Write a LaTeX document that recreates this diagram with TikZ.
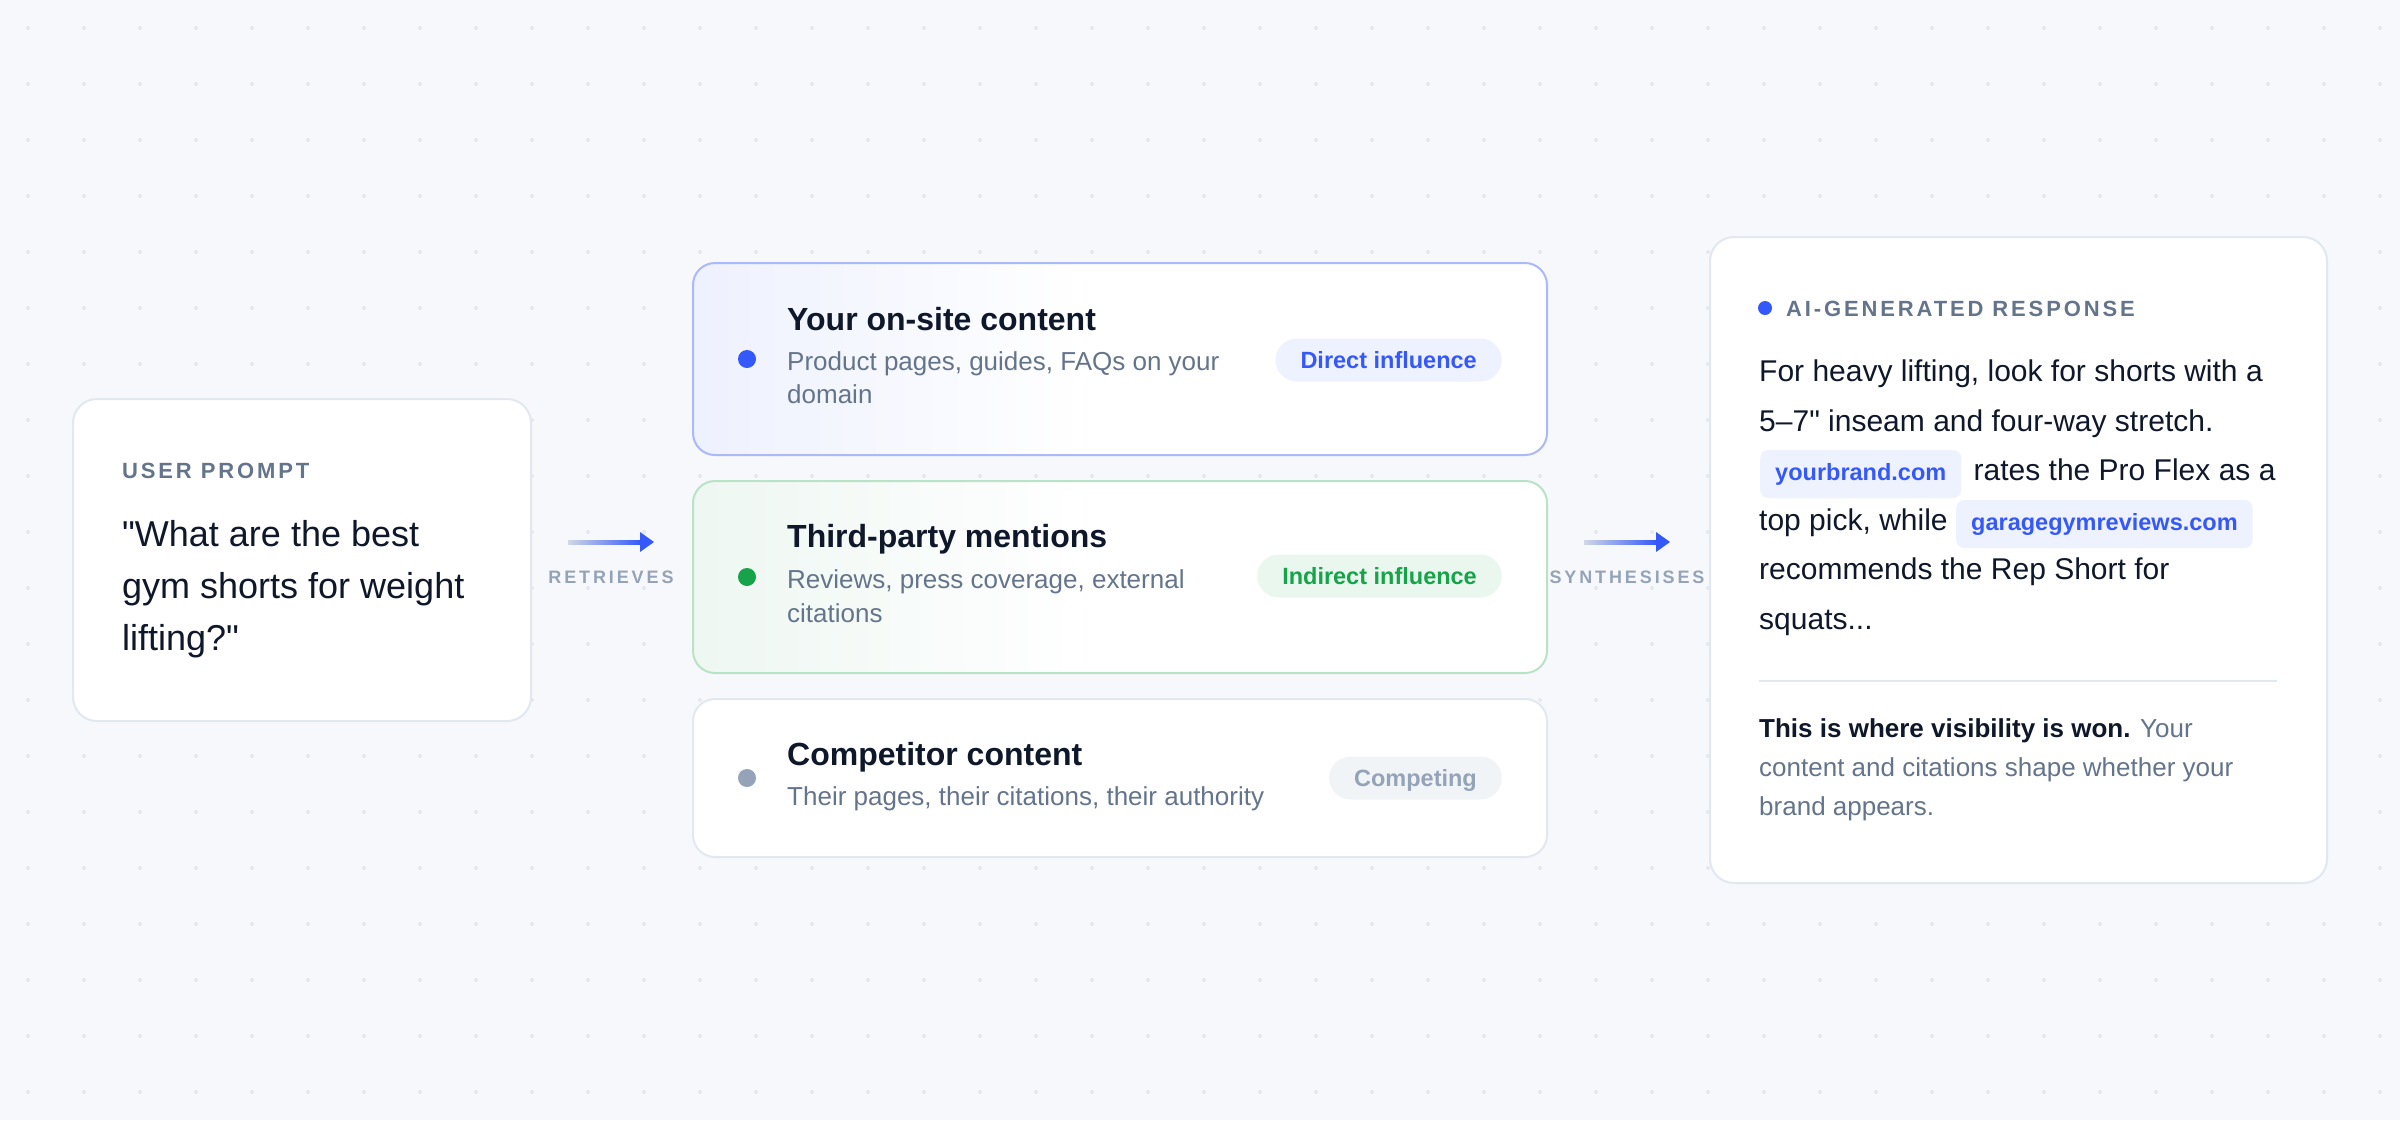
\documentclass[tikz,border=0pt]{standalone}
\usepackage{fontspec}
\setmainfont{Liberation Sans}[Ligatures=TeXOff]
\usetikzlibrary{calc}
\definecolor{bg}{HTML}{F7F8FB}
\definecolor{gridc}{HTML}{E5E8EF}
\definecolor{bord}{HTML}{E2E8F0}
\definecolor{ink}{HTML}{0F172A}
\definecolor{muted}{HTML}{64748B}
\definecolor{faint}{HTML}{94A3B8}
\definecolor{accent}{HTML}{3458FA}
\definecolor{okgreen}{HTML}{16A34A}
\definecolor{bluebord}{HTML}{AAB9F9}
\definecolor{greenbord}{HTML}{B9E3C6}
\definecolor{bluetint}{HTML}{EEF1FE}
\definecolor{greentint}{HTML}{EEF7F2}
\definecolor{bluechip}{HTML}{EEF2FF}
\definecolor{greenchip}{HTML}{EAF7EE}
\definecolor{graychip}{HTML}{F1F4F7}
\definecolor{arrowstart}{HTML}{D0D7E5}
\pgfdeclarehorizontalshading{bluefade}{100bp}{color(0bp)=(bluetint); color(25bp)=(bluetint); color(48bp)=(white); color(100bp)=(white)}
\pgfdeclarehorizontalshading{greenfade}{100bp}{color(0bp)=(greentint); color(25bp)=(greentint); color(48bp)=(white); color(100bp)=(white)}
\newcommand\fsz[2]{\fontsize{#1}{#2}\selectfont}
\tikzset{
  card/.style={draw=bord, line width=2pt, fill=white, rounded corners=22pt, inner sep=0pt},
  dotmark/.style={circle, inner sep=0pt, minimum size=18pt},
  title/.style={anchor=base west, inner sep=0pt, text=ink, font=\fsz{32}{38}\bfseries},
  desc/.style={anchor=base west, inner sep=0pt, text=muted, font=\fsz{26}{34}},
  badge/.style={anchor=east, rounded corners=21.5pt, minimum height=43pt, inner xsep=25pt, inner ysep=0pt, text height=17pt, text depth=0pt, font=\fsz{23.5}{28}\bfseries},
  kicker/.style={anchor=base west, inner sep=0pt, text=muted, font=\fsz{22}{26}\bfseries\addfontfeatures{LetterSpace=13}},
  flowlabel/.style={anchor=base, inner sep=0pt, text=faint, font=\fsz{18}{22}\bfseries\addfontfeatures{LetterSpace=16}},
  quote/.style={anchor=base west, inner sep=0pt, text=ink, font=\fsz{36}{44}},
  body/.style={anchor=base west, inner sep=0pt, text=ink, font=\fsz{30}{40}},
  chip/.style={anchor=base west, fill=bluechip, rounded corners=8pt, inner xsep=15pt, inner ysep=0pt, text height=30pt, text depth=18pt, text=accent, font=\fsz{23.5}{28}\bfseries},
  foot/.style={anchor=base west, inner sep=0pt, text=muted, font=\fsz{26}{36}},
}
\begin{document}
\begin{tikzpicture}[x=1pt,y=-1pt]
\useasboundingbox (0,0) rectangle (2400,1120);
\fill[bg] (0,0) rectangle (2400,1120);
\foreach \i in {0,...,42}{\foreach \j in {0,...,19}{\fill[gridc] (28+56*\i,28+56*\j) circle[radius=2pt];}}

% left card
\node[card, rounded corners=24pt, minimum width=458pt, minimum height=322pt] (prompt) at (302,560) {};
\node[kicker] (upk) at (122,478) {USER PROMPT};
\node[quote] (q1) at (122,546) {"What are the best};
\node[quote] (q2) at (122,598) {gym shorts for weight};
\node[quote] (q3) at (122,650) {lifting?"};

% arrows
\coordinate (a1s) at (568,542); \coordinate (a1e) at (641,542);
\shade[left color=arrowstart, right color=accent] ($(a1s)+(0,-2)$) rectangle ($(a1e)+(0,2)$);
\fill[accent] ($(a1e)+(-1,-10)$) -- ($(a1e)+(13,0)$) -- ($(a1e)+(-1,10)$) -- cycle;
\node[flowlabel] (l1) at (611,583) {RETRIEVES};

\coordinate (a2s) at (1584,542); \coordinate (a2e) at (1657,542);
\shade[left color=arrowstart, right color=accent] ($(a2s)+(0,-2)$) rectangle ($(a2e)+(0,2)$);
\fill[accent] ($(a2e)+(-1,-10)$) -- ($(a2e)+(13,0)$) -- ($(a2e)+(-1,10)$) -- cycle;
\node[flowlabel] (l2) at (1627,583) {SYNTHESISES};

% middle cards
\node[card, draw=bluebord, shade, shading=bluefade, minimum width=854pt, minimum height=192pt] (src1) at (1120,359) {};
\node[dotmark, fill=accent] (d1) at (747,359) {};
\node[title] (t1) at (787,330) {Your on-site content};
\node[desc] (s1a) at (787,370) {Product pages, guides, FAQs on your};
\node[desc] (s1b) at (787,403) {domain};
\node[badge, fill=bluechip, text=accent] (b1) at (1502,360) {Direct influence};

\node[card, draw=greenbord, shade, shading=greenfade, minimum width=854pt, minimum height=192pt] (src2) at (1120,577) {};
\node[dotmark, fill=okgreen] (d2) at (747,577) {};
\node[title] (t2) at (787,547) {Third-party mentions};
\node[desc] (s2a) at (787,588) {Reviews, press coverage, external};
\node[desc] (s2b) at (787,622) {citations};
\node[badge, fill=greenchip, text=okgreen] (b2) at (1502,576) {Indirect influence};

\node[card, minimum width=854pt, minimum height=158pt] (src3) at (1120,778) {};
\node[dotmark, fill=faint] (d3) at (747,778) {};
\node[title] (t3) at (787,765) {Competitor content};
\node[desc] (s3a) at (787,805) {Their pages, their citations, their authority};
\node[badge, fill=graychip, text=faint] (b3) at (1502,778) {Competing};

% right card
\node[card, rounded corners=24pt, minimum width=617pt, minimum height=646pt] (resp) at (2018.5,560) {};
\node[circle, inner sep=0pt, minimum size=14pt, fill=accent] (hd) at (1765,308) {};
\node[kicker] (aik) at (1786,316) {AI-GENERATED RESPONSE};
\node[body] (p1) at (1759,381) {For heavy lifting, look for shorts with a};
\node[body] (p2) at (1759,431) {5–7" inseam and four-way stretch.};
\node[chip] (c1) at (1760,480) {yourbrand.com};
\node[body] (p3) at ($(c1.base east)+(12,0)$) {rates the Pro Flex as a};
\node[body] (p4) at (1759,530) {top pick, while};
\node[chip] (c2) at (1956,530) {garagegymreviews.com};
\node[body] (p5) at (1759,579) {recommends the Rep Short for};
\node[body] (p6) at (1759,629) {squats...};
\coordinate (sepl) at (1759,681); \coordinate (sepr) at (2277,681);
\draw[bord, line width=2pt] (sepl) -- (sepr);
\node[foot] (f1) at (1759,737) {\textbf{\color{ink}This is where visibility is won.} Your};
\node[foot] (f2) at (1759,776) {content and citations shape whether your};
\node[foot] (f3) at (1759,815) {brand appears.};
\end{tikzpicture}
\end{document}
